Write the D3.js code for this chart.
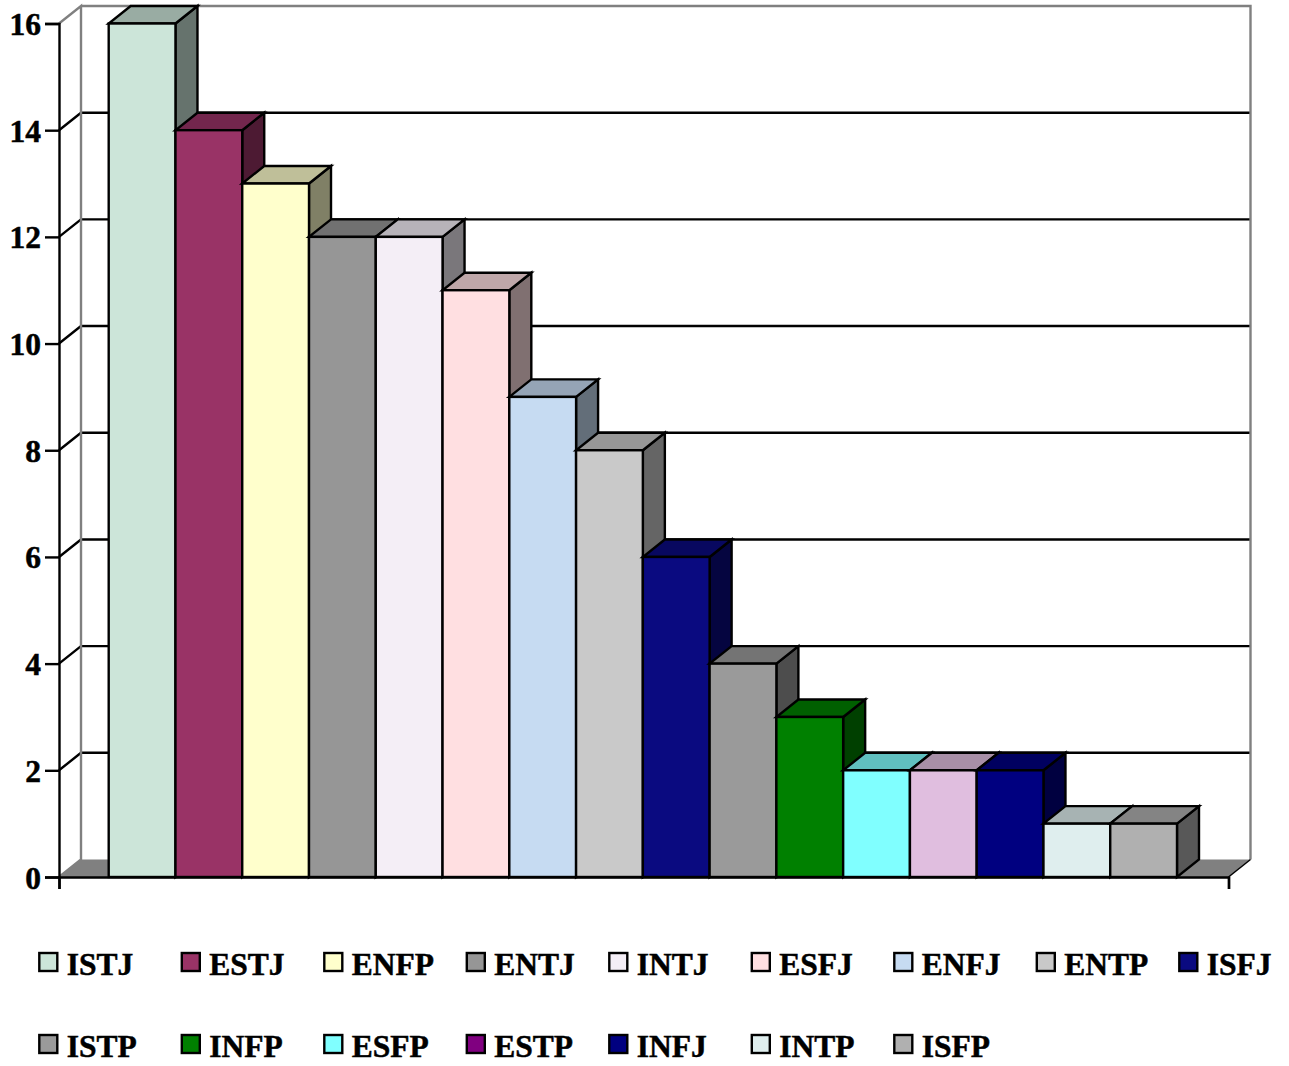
<!DOCTYPE html>
<html>
<head>
<meta charset="utf-8">
<script src="https://cdn.jsdelivr.net/npm/d3@7"></script>
<style>
  html, body { margin: 0; padding: 0; background: #fff; }
  svg { display: block; }
  text { font-family: "Liberation Serif", serif; font-weight: bold; font-size: 31.5px; fill: #000; stroke: #000; stroke-width: 0.5px; }
</style>
</head>
<body>
<script>
// Personality types in descending count order
const types = ["ISTJ","ESTJ","ENFP","ENTJ","INTJ","ESFJ","ENFJ","ENTP","ISFJ","ISTP","INFP","ESFP","ESTP","INFJ","INTP","ISFP"];
const counts = [16,14,13,12,12,11,9,8,6,4,3,2,2,2,1,1];
const barColors = ["#cce5d9","#993366","#ffffcc","#969696","#f4eef6","#ffdfe1","#c6dbf2","#c9c9c9","#0a0a80","#9a9a9a","#008000","#80ffff","#e0bedf","#000080","#dfeeee","#b0b0b0"];
const legendColors = ["#cce5d9","#993366","#ffffcc","#969696","#f4eef6","#ffdfe1","#c6dbf2","#c9c9c9","#0a0a80","#9a9a9a","#008000","#80ffff","#800080","#000080","#dfeeee","#b0b0b0"];
const yTicks = [0,2,4,6,8,10,12,14,16];
const legendPerRow = 9;

const W = 1289, H = 1066;
const frame = { left: 59, right: 1228.5, floor: 877, top: 23.5 };
const depth = { dx: 22, dy: -17.5 };
const barSpan = [108.7, 1177];
const lineWidth = 2.4;

const svg = d3.select("body").append("svg").attr("width", W).attr("height", H);

const y = d3.scaleLinear().domain([0, 16]).range([frame.floor, frame.top]);
const x = d3.scaleBand().domain(types).range(barSpan).padding(0);
const frameX = d3.scaleLinear().domain([0, 1]).range([frame.left, frame.right]);

const poly = pts => pts.map(p => p.join(",")).join(" ");
const back = (px, py) => [px + depth.dx, py + depth.dy];

// Floor of the 3D box
svg.append("polygon")
  .attr("points", poly([[frame.left, frame.floor], [frame.right, frame.floor], back(frame.right, frame.floor), back(frame.left, frame.floor)]))
  .attr("fill", "#808080");

// Gridlines on the back wall and their diagonals on the side wall
const inner = yTicks.filter(t => t > 0 && t < 16);
svg.append("g").selectAll("path").data(inner).join("path")
  .attr("d", t => `M${frame.left},${y(t)}L${frame.left + depth.dx},${y(t) + depth.dy}H${frame.right + depth.dx}`)
  .attr("fill", "none").attr("stroke", "#000").attr("stroke-width", lineWidth);

// Grey outline of the walls
svg.append("path")
  .attr("d", `M${frame.left},${frame.floor}L${frame.left + depth.dx},${frame.floor + depth.dy}V${y(16) + depth.dy}L${frame.left},${y(16)}M${frame.left + depth.dx},${y(16) + depth.dy}H${frame.right + depth.dx}V${frame.floor + depth.dy}`)
  .attr("fill", "none").attr("stroke", "#808080").attr("stroke-width", lineWidth);
svg.append("line")
  .attr("x1", frame.right).attr("y1", frame.floor)
  .attr("x2", frame.right + depth.dx).attr("y2", frame.floor + depth.dy)
  .attr("stroke", "#000").attr("stroke-width", 1.5);

// Extruded bars, painted left to right so each one overlaps its neighbour's side
const shade = (c, k) => { const r = d3.rgb(c); return d3.rgb(r.r * k, r.g * k, r.b * k).formatHex(); };
const bars = svg.append("g").attr("stroke", "#000").attr("stroke-width", lineWidth).attr("stroke-linejoin", "miter")
  .selectAll("g").data(types.map((t, i) => ({ t, v: counts[i], c: barColors[i] }))).join("g");

bars.append("polygon").attr("fill", d => shade(d.c, 0.5))
  .attr("points", d => {
    const r = x(d.t) + x.bandwidth();
    return poly([[r, y(d.v)], back(r, y(d.v)), back(r, y(0)), [r, y(0)]]);
  });
bars.append("polygon").attr("fill", d => shade(d.c, 0.75))
  .attr("points", d => {
    const l = x(d.t), r = l + x.bandwidth();
    return poly([[l, y(d.v)], [r, y(d.v)], back(r, y(d.v)), back(l, y(d.v))]);
  });
bars.append("rect").attr("fill", d => d.c)
  .attr("x", d => x(d.t)).attr("y", d => y(d.v))
  .attr("width", x.bandwidth()).attr("height", d => y(0) - y(d.v));

// Front axes
const yAxis = d3.axisLeft(y).tickValues(yTicks).tickSize(14).tickPadding(4).tickFormat(d3.format("d"));
const yG = svg.append("g").attr("transform", `translate(${frame.left},0)`).call(yAxis);
yG.selectAll("path,line").attr("stroke", "#000").attr("stroke-width", lineWidth);
yG.selectAll("text").attr("dy", null).attr("y", 11);
yG.attr("font-family", null).attr("font-size", null);

const xAxis = d3.axisBottom(frameX).tickValues([0, 1]).tickSize(12).tickFormat("");
const xG = svg.append("g").attr("transform", `translate(0,${frame.floor})`).call(xAxis);
xG.selectAll("path,line").attr("stroke", "#000").attr("stroke-width", lineWidth);

// Legend, nine entries on the first row and the rest below
const legendX = d3.scalePoint().domain(d3.range(legendPerRow)).range([39.3, 1179.3]);
const legendY = d3.scalePoint().domain([0, 1]).range([953, 1035]);
const items = svg.append("g").selectAll("g").data(types).join("g")
  .attr("transform", (d, i) => `translate(${legendX(i % legendPerRow)},${legendY(Math.floor(i / legendPerRow))})`);
items.append("rect").attr("width", 18).attr("height", 18)
  .attr("fill", (d, i) => legendColors[i]).attr("stroke", "#000").attr("stroke-width", lineWidth);
items.append("text").attr("x", 27.5).attr("y", 22).text(d => d);
</script>
</body>
</html>
